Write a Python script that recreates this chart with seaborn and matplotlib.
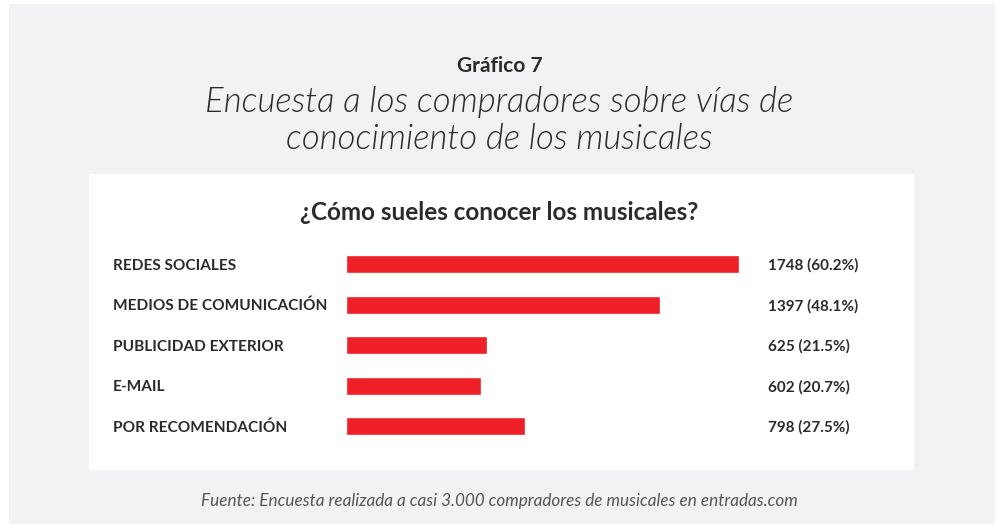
import matplotlib
matplotlib.use("Agg")
import matplotlib.pyplot as plt
import matplotlib.transforms as mtransforms
from matplotlib.patches import Rectangle
import seaborn as sns
import pandas as pd

# Survey answers: how buyers hear about musicals
categories = ["REDES SOCIALES", "MEDIOS DE COMUNICACIÓN", "PUBLICIDAD EXTERIOR",
              "E-MAIL", "POR RECOMENDACIÓN"]
counts = [1748, 1397, 625, 602, 798]
percents = [60.2, 48.1, 21.5, 20.7, 27.5]

sns.set_theme(style="white")
plt.rcParams["font.family"] = ["Lato", "DejaVu Sans"]

W, H = 999, 524
fig = plt.figure(figsize=(W / 100, H / 100), dpi=100)
fig.patch.set_facecolor("white")


def fx(px):
    return px / W


def fy(py):
    return 1 - py / H


# Grey page background and the white card holding the chart
fig.patches.append(Rectangle((fx(9), fy(524)), fx(995 - 9), (524 - 4) / H,
                             transform=fig.transFigure, facecolor="#f1f2f4",
                             edgecolor="none", zorder=0))
fig.patches.append(Rectangle((fx(89), fy(470)), fx(914 - 89), (470 - 174) / H,
                             transform=fig.transFigure, facecolor="white",
                             edgecolor="none", zorder=1))

dark = "#2b2b2b"
fig.text(0.5, fy(66), "Gráfico 7", ha="center", va="center", fontsize=15,
         fontweight="bold", color=dark)
fig.text(0.5, fy(102), "Encuesta a los compradores sobre vías de",
         ha="center", va="center", fontsize=25, fontstyle="italic",
         fontweight=300, color=dark)
fig.text(0.5, fy(139), "conocimiento de los musicales",
         ha="center", va="center", fontsize=25, fontstyle="italic",
         fontweight=300, color=dark)
fig.text(0.5, fy(213), "¿Cómo sueles conocer los musicales?", ha="center",
         va="center", fontsize=17.5, fontweight="bold", color=dark)
fig.text(0.5, fy(501), "Fuente: Encuesta realizada a casi 3.000 compradores de musicales en entradas.com",
         ha="center", va="center", fontsize=12.3, fontstyle="italic", color="#555555")

# Bar area: rows are 40.5 px apart, first centred at y=264
top, bottom = 243.75, 446.25
left, right = 346, 739
ax = fig.add_axes([fx(left), fy(bottom), fx(right - left), (bottom - top) / H])
ax.set_facecolor("none")
ax.set_zorder(2)

df = pd.DataFrame({"via": categories, "n": counts})
sns.barplot(data=df, x="n", y="via", orient="h", color="#ee1f26",
            width=18 / 40.5, saturation=1, ax=ax)
ax.set_xlim(0, max(counts))
ax.set_ylim(len(categories) - 0.5, -0.5)
ax.set_axis_off()

# Row labels sit in figure x, data y; nudged down a touch so caps centre on bars
lab_tr = mtransforms.blended_transform_factory(fig.transFigure, ax.transData)
nudge = 0.04
for i, (cat, n, p) in enumerate(zip(categories, counts, percents)):
    ax.text(fx(113), i + nudge, cat, transform=lab_tr, ha="left", va="center",
            fontsize=11.1, fontweight="bold", color=dark, clip_on=False)
    ax.text(fx(768), i + nudge, f"{n} ({p:.1f}%)", transform=lab_tr, ha="left",
            va="center", fontsize=11, fontweight="bold", color=dark,
            clip_on=False)

fig.savefig("out.png", dpi=100, facecolor=fig.get_facecolor())
